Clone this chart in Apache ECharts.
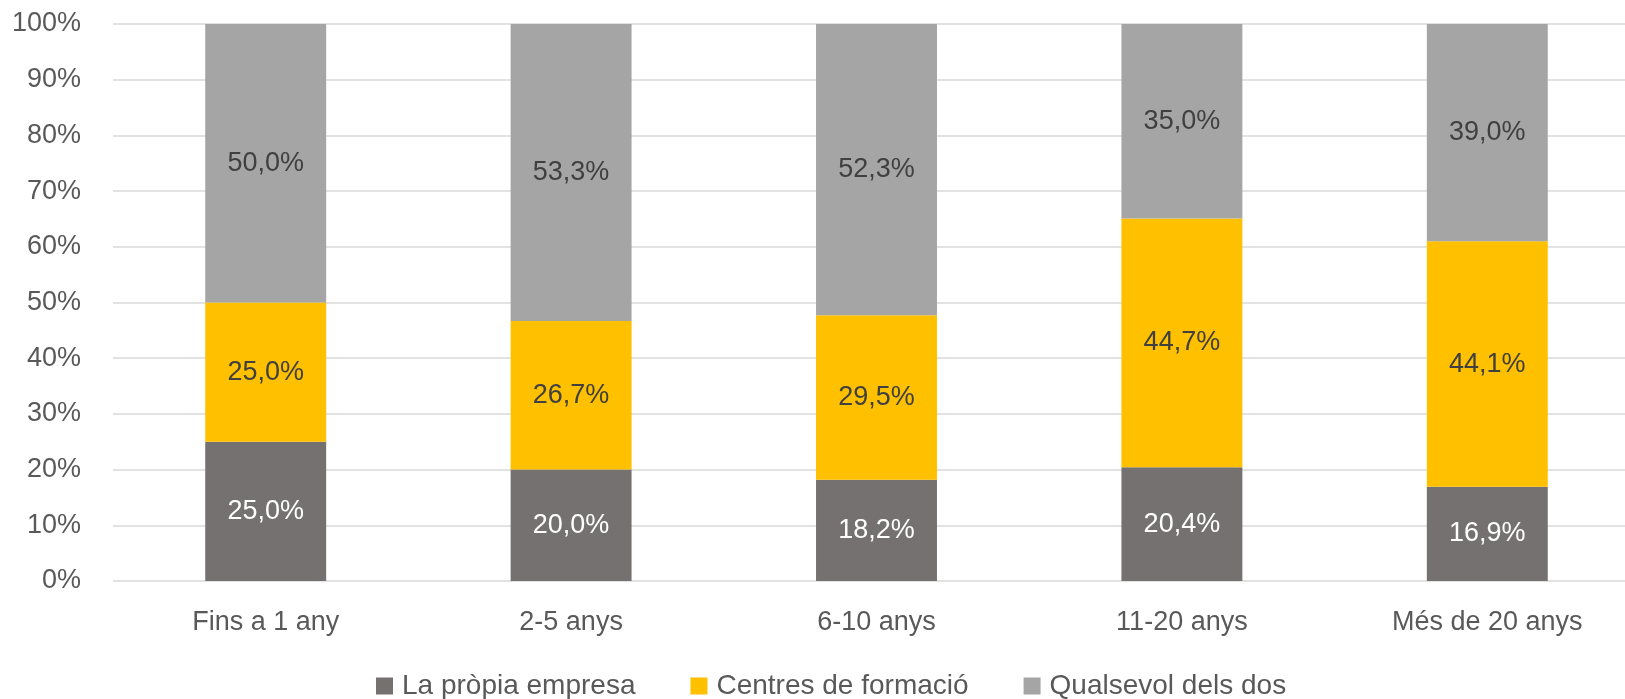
<!DOCTYPE html>
<html>
<head>
<meta charset="utf-8">
<script src="https://cdn.jsdelivr.net/npm/echarts@6/dist/echarts.min.js"></script>
<style>
  html, body { margin: 0; padding: 0; background: #fff; }
  #chart { width: 1625px; height: 699px; }
</style>
</head>
<body>
<div id="chart"></div>
<script>
// Categories: years of experience
const categories = ['Fins a 1 any', '2-5 anys', '6-10 anys', '11-20 anys', 'Més de 20 anys'];

// Share of each training source (percent)
const propiaEmpresa = [25.0, 20.0, 18.2, 20.4, 16.9];
const centresFormacio = [25.0, 26.7, 29.5, 44.7, 44.1];
const qualsevolDos = [50.0, 53.3, 52.3, 35.0, 39.0];

const seriesNames = ['La pròpia empresa', 'Centres de formació', 'Qualsevol dels dos'];
const yTicks = [0, 10, 20, 30, 40, 50, 60, 70, 80, 90, 100];

const FONT = '"Liberation Sans", Arial, sans-serif';
const TEXT = '#595959';

const fmt = v => v.toFixed(1).replace('.', ',') + '%';

function barSeries(name, data, color, labelColor) {
  return {
    name: name,
    type: 'bar',
    stack: 'total',
    barWidth: '39.6%',
    data: data,
    itemStyle: { color: color },
    label: {
      show: true,
      position: 'inside',
      color: labelColor,
      fontFamily: FONT,
      fontSize: 27,
      formatter: p => fmt(p.value)
    },
    emphasis: { disabled: true }
  };
}

const chart = echarts.init(document.getElementById('chart'), null, { renderer: 'canvas' });
chart.setOption({
  animation: false,
  backgroundColor: '#ffffff',
  // plot area runs a little past the right edge of the canvas
  grid: { left: 113, top: 24, width: 1527, height: 557, containLabel: false, outerBoundsMode: 'none' },
  legend: {
    data: seriesNames,
    left: 371,
    top: 667,
    itemWidth: 17,
    itemHeight: 17,
    itemGap: 55,
    icon: 'rect',
    textStyle: { color: TEXT, fontFamily: FONT, fontSize: 28, padding: [0, 0, 0, 4] }
  },
  xAxis: {
    type: 'category',
    data: categories,
    axisLine: { show: false },
    axisTick: { show: false },
    axisLabel: { color: TEXT, fontFamily: FONT, fontSize: 27, margin: 28 }
  },
  yAxis: {
    type: 'value',
    min: yTicks[0],
    max: yTicks[yTicks.length - 1],
    interval: 10,
    axisLine: { show: false },
    axisTick: { show: false },
    splitLine: { lineStyle: { color: '#d9d9d9', width: 1.5 } },
    axisLabel: { color: TEXT, fontFamily: FONT, fontSize: 27, margin: 32, formatter: v => v + '%' }
  },
  series: [
    barSeries(seriesNames[0], propiaEmpresa, '#757171', '#ffffff'),
    barSeries(seriesNames[1], centresFormacio, '#ffc000', '#404040'),
    barSeries(seriesNames[2], qualsevolDos, '#a5a5a5', '#404040')
  ]
});
</script>
</body>
</html>
